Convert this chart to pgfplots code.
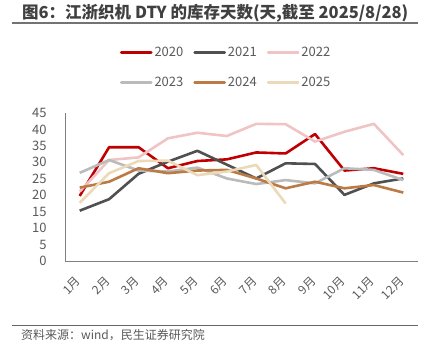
\documentclass[border=0pt]{standalone}
\usepackage{pgfplots}
\pgfplotsset{compat=1.18}
\usepackage{fontspec}
\setmainfont{Noto Sans CJK SC}
\definecolor{c20}{HTML}{C00000}
\definecolor{c21}{HTML}{505050}
\definecolor{c22}{HTML}{F0C4C4}
\definecolor{c23}{HTML}{BBBBBB}
\definecolor{c24}{HTML}{BC7A45}
\definecolor{c25}{HTML}{EBD9B8}
\definecolor{txt}{HTML}{595959}
\begin{document}
\begin{tikzpicture}
\useasboundingbox (0pt,0pt) rectangle (436pt,350pt);
\node[anchor=west, font=\fontsize{16.5}{18}\selectfont\bfseries, text=black!75, inner sep=0] at (22pt,336.5pt) {图6：江浙织机 DTY 的库存天数(天,截至 2025/8/28)};
\draw[black!55, line width=1.8pt] (12pt,327.3pt) -- (418pt,327.3pt);
\draw[black!60, line width=0.8pt] (12pt,24.5pt) -- (418pt,24.5pt);
\node[anchor=west, font=\fontsize{12}{14}\selectfont, text=txt, inner sep=0] at (21pt,15pt) {资料来源：wind，民生证券研究院};
\begin{axis}[
  at={(65pt,89pt)}, anchor=south west,
  width=353pt, height=148pt, scale only axis,
  xmin=0.5, xmax=12.5, ymin=0, ymax=45,
  axis x line*=bottom, axis y line*=left,
  axis line style={black!50, line width=0.9pt, -},
  xtick={1,...,12},
  xticklabels={1月,2月,3月,4月,5月,6月,7月,8月,9月,10月,11月,12月},
  ytick={0,5,...,45},
  major tick length=0pt,
  tick label style={font=\fontsize{13}{15}\selectfont, text=txt},
  /pgf/number format/assume math mode=true,
  xticklabel style={font=\fontsize{12}{14}\selectfont, xshift=1pt, yshift=-16pt, rotate=45, anchor=east},
  yticklabel style={xshift=-15pt},
  legend columns=3,
  legend cell align=left,
  legend style={at={(0.155,1.46)}, anchor=north west, draw=none, fill=none,
    font=\fontsize{13}{15}\selectfont, text=txt,
    /tikz/every even column/.append style={column sep=8pt},
    row sep=15pt, inner sep=0pt},
  legend image code/.code={\draw[#1, line width=2.6pt, line cap=round] (0pt,0pt) -- (30pt,0pt);},
  every axis plot/.append style={line width=2.6pt, line join=round},
]
\addplot[c20] coordinates {(1,19.8)(2,34.6)(3,34.6)(4,28.2)(5,30.4)(6,30.9)(7,33.0)(8,32.7)(9,38.6)(10,27.5)(11,28.2)(12,26.5)};
\addlegendentry{2020}
\addplot[c21] coordinates {(1,15.3)(2,18.8)(3,26.5)(4,30.2)(5,33.5)(6,29.3)(7,25.1)(8,29.7)(9,29.5)(10,20.1)(11,23.6)(12,25.1)};
\addlegendentry{2021}
\addplot[c22] coordinates {(1,21.1)(2,30.7)(3,31.5)(4,37.3)(5,39.0)(6,38.0)(7,41.7)(8,41.6)(9,36.3)(10,39.3)(11,41.7)(12,32.2)};
\addlegendentry{2022}
\addplot[c23] coordinates {(1,26.8)(2,30.7)(3,27.5)(4,27.2)(5,28.4)(6,25.1)(7,23.4)(8,24.6)(9,23.6)(10,28.2)(11,27.7)(12,24.6)};
\addlegendentry{2023}
\addplot[c24] coordinates {(1,22.3)(2,24.1)(3,28.2)(4,26.7)(5,27.5)(6,27.7)(7,25.1)(8,22.1)(9,24.1)(10,22.1)(11,23.1)(12,20.8)};
\addlegendentry{2024}
\addplot[c25] coordinates {(1,17.7)(2,26.7)(3,30.4)(4,30.5)(5,26.1)(6,27.2)(7,29.2)(8,17.5)};
\addlegendentry{2025}
\end{axis}
\end{tikzpicture}
\end{document}
